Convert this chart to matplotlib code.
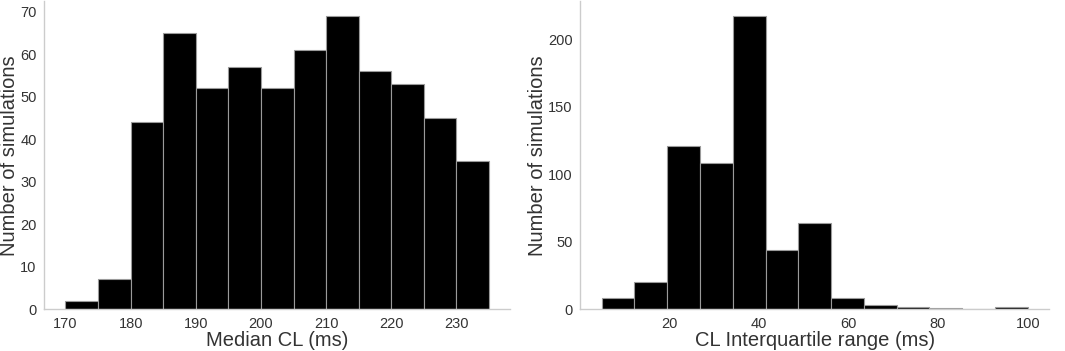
import numpy as np
import matplotlib
matplotlib.use("Agg")
import matplotlib.pyplot as plt

# Histogram counts
median_edges = np.arange(170, 240, 5)  # 170..235, 13 bins
median_counts = [2, 7, 44, 65, 52, 57, 52, 61, 69, 56, 53, 45, 35]

iqr_edges = np.linspace(5, 100, 14)  # 13 bins from 5 to 100 ms
iqr_counts = [8, 20, 121, 108, 217, 44, 64, 8, 3, 2, 1, 0, 2]

TEXT = "#333333"
SPINE = "#cccccc"

plt.rcParams['font.family'] = ['Liberation Sans', 'DejaVu Sans']

fig = plt.figure(figsize=(10.65, 3.51), dpi=100)
ax1 = fig.add_axes([0.0416, 0.119, 0.4374, 0.877])
ax2 = fig.add_axes([0.545, 0.119, 0.440, 0.877])


def draw_hist(ax, edges, counts, xlabel, xticks):
    ax.hist(edges[:-1], bins=edges, weights=counts, color="black",
            edgecolor="#9a9a9a", linewidth=0.8)
    ax.set_xlabel(xlabel, fontsize=14.5, color=TEXT, labelpad=0)
    ax.set_ylabel("Number of simulations", fontsize=14.5, color=TEXT, labelpad=1)
    ax.set_xticks(xticks)
    ax.tick_params(axis="both", labelsize=10.5, colors=TEXT, length=0, pad=5.5)
    for side in ["top", "right"]:
        ax.spines[side].set_visible(False)
    for side in ["left", "bottom"]:
        ax.spines[side].set_color(SPINE)
        ax.spines[side].set_linewidth(1.0)
    ax.grid(False)


draw_hist(ax1, median_edges, median_counts, "Median CL (ms)", range(170, 240, 10))
ax1.set_yticks(range(0, 80, 10))

draw_hist(ax2, iqr_edges, iqr_counts, "CL Interquartile range (ms)", range(20, 120, 20))
ax2.set_yticks(range(0, 250, 50))

fig.savefig("out.png", dpi=100)
